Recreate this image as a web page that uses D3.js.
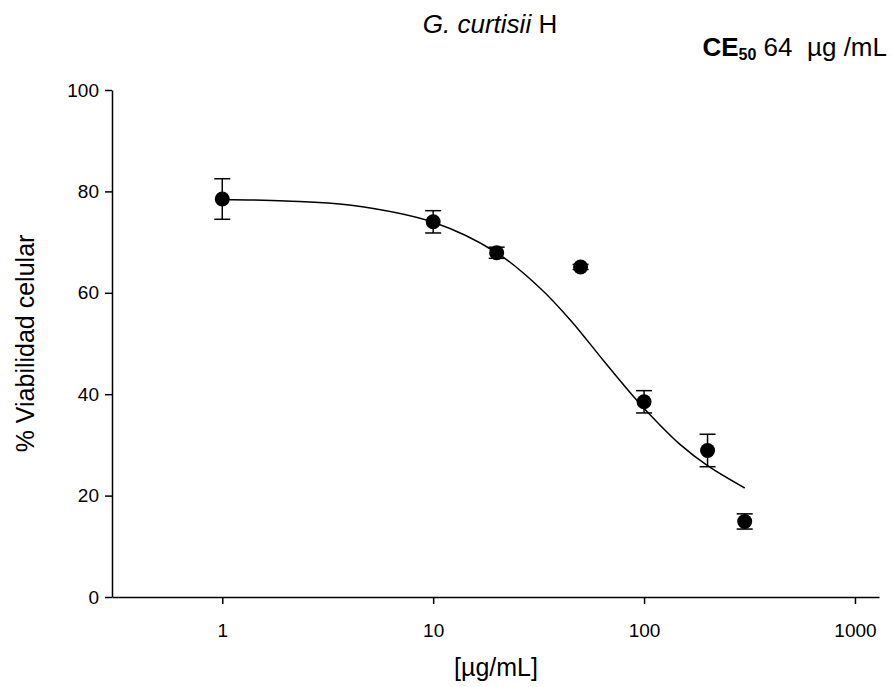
<!DOCTYPE html>
<html>
<head>
<meta charset="utf-8">
<script src="https://cdn.jsdelivr.net/npm/d3@7"></script>
<style>
  body { margin: 0; background: #fff; }
  svg { font-family: "Liberation Sans", Arial, sans-serif; }
</style>
</head>
<body>
<script>
// concentration (µg/mL) and % viability
const doses = [1, 10, 20, 50, 100, 200, 300]
const viability = [78.5, 74.0, 67.9, 65.1, 38.5, 28.9, 14.9]
const errors = [4.0, 2.2, 1.1, 0.5, 2.2, 3.2, 1.5]

// fitted curve
const curveX = [1, 2, 4, 10, 20, 32, 45, 64, 86, 107, 148, 200, 300]
const curveY = [78.4, 78.1, 77.3, 73.9, 67.9, 61.0, 54.5, 46.7, 40.3, 35.9, 30.1, 25.9, 21.5]

const xTicks = [1, 10, 100, 1000]
const yTicks = [0, 20, 40, 60, 80, 100]

const width = 893, height = 687

const x = d3.scaleLog().domain([0.3, 1300]).range([112, 879])
const y = d3.scaleLinear().domain([0, 100]).range([597, 90])

const svg = d3.select('body').append('svg')
    .attr('width', width)
    .attr('height', height)

// axes
const xAxis = svg.append('g')
    .attr('transform', `translate(0,${y(0)})`)
    .call(d3.axisBottom(x).tickValues(xTicks).tickFormat(d3.format('d')).tickSize(7).tickSizeOuter(0))
const yAxis = svg.append('g')
    .attr('transform', `translate(${x.range()[0]},0)`)
    .call(d3.axisLeft(y).tickValues(yTicks).tickSize(7).tickSizeOuter(0))

for (const ax of [xAxis, yAxis]) {
    ax.select('.domain').attr('stroke', '#000').attr('stroke-width', 1.5)
    ax.selectAll('.tick line').attr('stroke', '#000').attr('stroke-width', 1.5)
    ax.selectAll('.tick text').attr('fill', '#000').style('font-size', '19px')
        .style('font-family', '"Liberation Sans", Arial, sans-serif')
}
xAxis.selectAll('.tick text').attr('dy', '1.6em')
yAxis.selectAll('.tick text').attr('x', -13)

// fitted line
const line = d3.line()
    .x((d, i) => x(curveX[i]))
    .y(d => y(d))
    .curve(d3.curveCatmullRom.alpha(0.5))
svg.append('path')
    .datum(curveY)
    .attr('d', line)
    .attr('fill', 'none')
    .attr('stroke', '#000')
    .attr('stroke-width', 1.5)

// error bars and points
const pts = doses.map((d, i) => ({ dose: d, v: viability[i], e: errors[i] }))
const bars = svg.append('g').attr('stroke', '#000').attr('stroke-width', 1.5)
bars.selectAll('line.stem').data(pts).enter().append('line')
    .attr('x1', d => x(d.dose)).attr('x2', d => x(d.dose))
    .attr('y1', d => y(d.v + d.e)).attr('y2', d => y(d.v - d.e))
bars.selectAll('line.cap-top').data(pts).enter().append('line')
    .attr('x1', d => x(d.dose) - 8).attr('x2', d => x(d.dose) + 8)
    .attr('y1', d => y(d.v + d.e)).attr('y2', d => y(d.v + d.e))
bars.selectAll('line.cap-bot').data(pts).enter().append('line')
    .attr('x1', d => x(d.dose) - 8).attr('x2', d => x(d.dose) + 8)
    .attr('y1', d => y(d.v - d.e)).attr('y2', d => y(d.v - d.e))

svg.append('g').selectAll('circle').data(pts).enter().append('circle')
    .attr('cx', d => x(d.dose))
    .attr('cy', d => y(d.v))
    .attr('r', 7.5)
    .attr('fill', '#000')

// titles
const title = svg.append('text')
    .attr('x', 490).attr('y', 33)
    .attr('text-anchor', 'middle')
    .style('font-size', '26px')
title.append('tspan').style('font-style', 'italic').text('G. curtisii')
title.append('tspan').text(' H')

const ce = svg.append('text')
    .attr('x', 887).attr('y', 56)
    .attr('text-anchor', 'end')
    .style('font-size', '26px')
    .style('white-space', 'pre')
ce.append('tspan').style('font-weight', 'bold').text('CE')
ce.append('tspan').style('font-weight', 'bold').style('font-size', '16px').attr('dy', 4).text('50')
ce.append('tspan').attr('dy', -4).text(' 64  µg /mL')

svg.append('text')
    .attr('x', 496).attr('y', 676)
    .attr('text-anchor', 'middle')
    .style('font-size', '25px')
    .text('[µg/mL]')

svg.append('text')
    .attr('transform', `translate(34,${(y(0) + y(100)) / 2}) rotate(-90)`)
    .attr('text-anchor', 'middle')
    .style('font-size', '25px')
    .text('% Viabilidad celular')
</script>
</body>
</html>
